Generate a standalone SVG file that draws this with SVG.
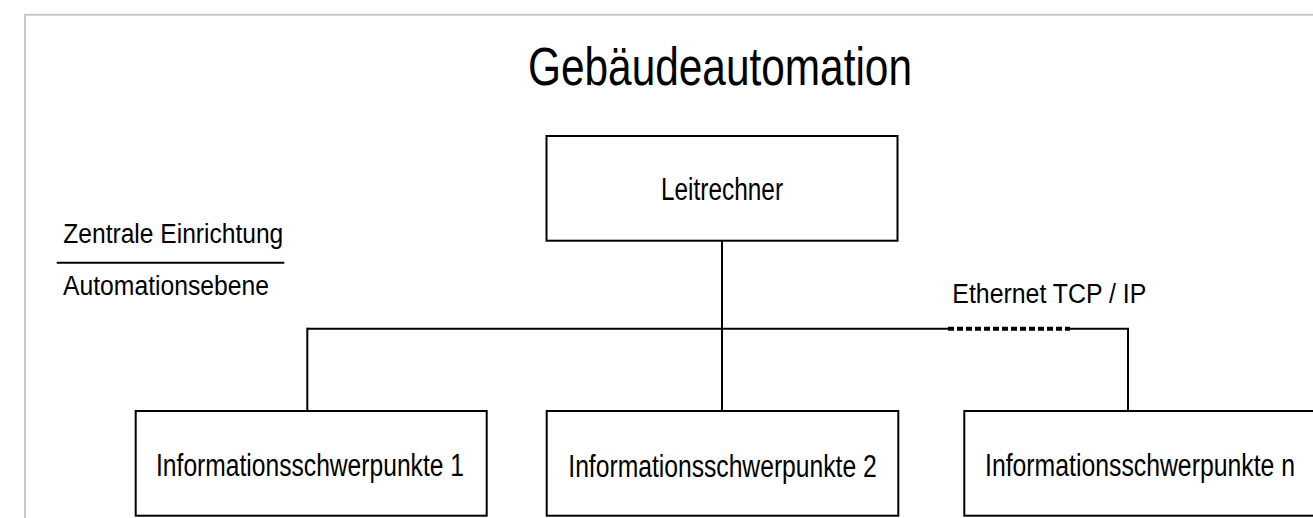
<svg xmlns="http://www.w3.org/2000/svg" width="1313" height="518" viewBox="0 0 1313 518">
  <style>
    .box { fill: #ffffff; stroke: #000000; stroke-width: 2; }
    .line { fill: none; stroke: #000000; stroke-width: 2; }
    .dash { fill: none; stroke: #000000; stroke-width: 4; stroke-dasharray: 6 3; }
    .t { font-family: "Liberation Sans Narrow", "Arial Narrow", "Liberation Sans", Arial, sans-serif; fill: #000000; }
    .lbl { font-size: 31px; }
    .side { font-size: 27px; }
    .title { font-size: 54px; }
  </style>
  <rect width="1313" height="518" fill="#ffffff"/>
  <path d="M25,600 V14.7 H1400" fill="none" stroke="#c8c8c8" stroke-width="2"/>

  <g id="title">
    <text class="t title" x="528" y="85" textLength="384" lengthAdjust="spacingAndGlyphs">Gebäudeautomation</text>
  </g>

  <g id="legend">
    <text class="t side" x="63.3" y="243" textLength="220" lengthAdjust="spacingAndGlyphs">Zentrale Einrichtung</text>
    <line class="line" x1="56.7" y1="262.7" x2="284.3" y2="262.7" stroke-width="1.5"/>
    <text class="t side" x="63" y="295" textLength="206" lengthAdjust="spacingAndGlyphs">Automationsebene</text>
  </g>

  <g id="connectors">
    <line class="line" x1="722" y1="240.7" x2="722" y2="411"/>
    <line class="line" x1="307.3" y1="328.7" x2="948" y2="328.7"/>
    <line class="dash" x1="948" y1="328.7" x2="1070" y2="328.7"/>
    <polyline class="line" points="1070,328.7 1128,328.7 1128,411"/>
    <line class="line" x1="307.3" y1="327.7" x2="307.3" y2="411"/>
  </g>

  <g id="ethernet-label">
    <text class="t side" x="952.3" y="303.3" textLength="194" lengthAdjust="spacingAndGlyphs">Ethernet TCP / IP</text>
  </g>

  <g id="leitrechner">
    <rect class="box" x="546.5" y="136" width="351" height="104.7"/>
    <text class="t lbl" x="661" y="200" textLength="122" lengthAdjust="spacingAndGlyphs">Leitrechner</text>
  </g>

  <g id="isp1">
    <rect class="box" x="135.7" y="411" width="351" height="104.7"/>
    <text class="t lbl" x="156" y="476" textLength="308" lengthAdjust="spacingAndGlyphs">Informationsschwerpunkte 1</text>
  </g>

  <g id="isp2">
    <rect class="box" x="546.7" y="411" width="351.6" height="104.7"/>
    <text class="t lbl" x="568.3" y="476.5" textLength="308.4" lengthAdjust="spacingAndGlyphs">Informationsschwerpunkte 2</text>
  </g>

  <g id="ispn">
    <rect class="box" x="964.3" y="411" width="351" height="104.7"/>
    <text class="t lbl" x="985" y="476" textLength="310" lengthAdjust="spacingAndGlyphs">Informationsschwerpunkte n</text>
  </g>
</svg>
